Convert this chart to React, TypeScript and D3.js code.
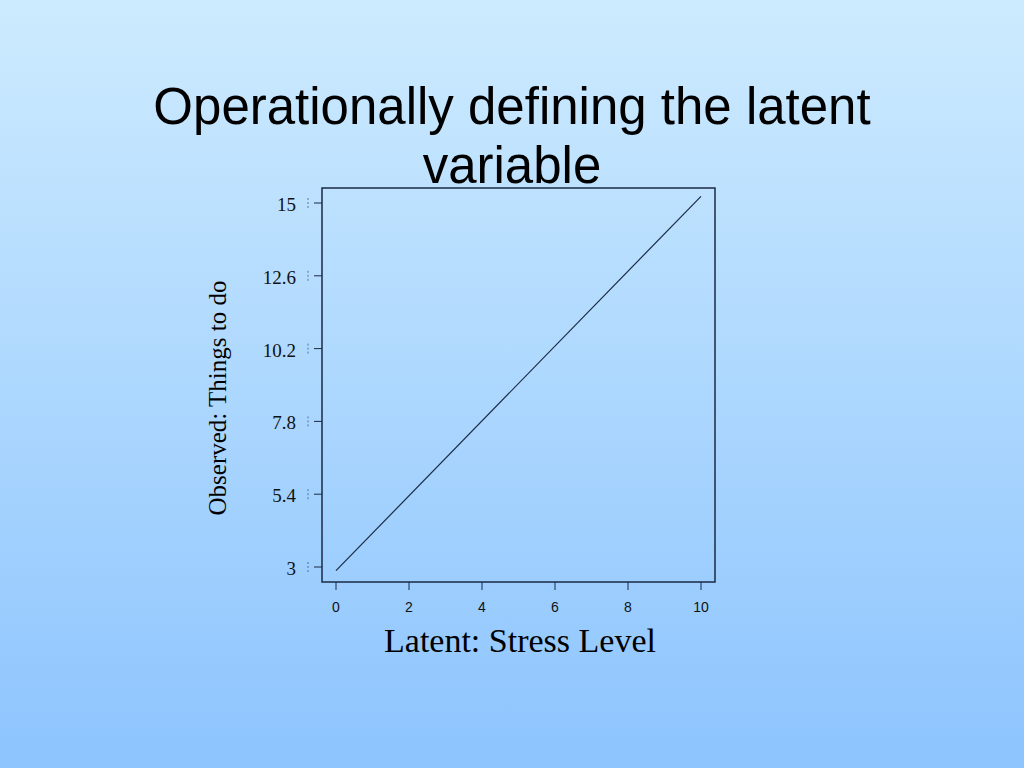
import React from "react";
import * as d3 from "d3";

const titleLines = ["Operationally defining the latent", "variable"];
const xTicks = [0, 2, 4, 6, 8, 10];
const yTicks = [3, 5.4, 7.8, 10.2, 12.6, 15];
const yTickLabels = ["3", "5.4", "7.8", "10.2", "12.6", "15"];
const lineX = [0, 10];
const lineY = [2.88, 15.22];
const xLabel = "Latent: Stress Level";
const yLabel = "Observed: Things to do";

const W = 1024;
const H = 768;
const box = { left: 322, right: 715, top: 188, bottom: 582 };

export default function App() {
  const x = d3.scaleLinear().domain([0, 10]).range([336, 701]);
  const y = d3.scaleLinear().domain([3, 15]).range([567, 203]);
  const line = d3
    .line<number>()
    .x((_, i) => x(lineX[i]))
    .y((d) => y(d));
  const ink = "#1b2a44";
  return (
    <svg
      width={W}
      height={H}
      style={{ position: "fixed", left: 0, top: 0, display: "block" }}
    >
      <defs>
        <linearGradient id="bg" x1="0" y1="0" x2="0" y2="1">
          <stop offset="0" stopColor="#cdebfe" />
          <stop offset="1" stopColor="#8dc4fe" />
        </linearGradient>
      </defs>
      <rect x={0} y={0} width={W} height={H} fill="url(#bg)" />
      {titleLines.map((t, i) => (
        <text
          key={i}
          x={512}
          y={124 + i * 59}
          textAnchor="middle"
          fontFamily="'Liberation Sans', Arial, sans-serif"
          fontSize={51}
          fill="#000"
        >
          {t}
        </text>
      ))}
      <rect
        x={box.left}
        y={box.top}
        width={box.right - box.left}
        height={box.bottom - box.top}
        fill="none"
        stroke={ink}
        strokeWidth={1.5}
      />
      <path d={line(lineY) || ""} fill="none" stroke={ink} strokeWidth={1.2} />
      {xTicks.map((t) => (
        <g key={t}>
          <line x1={x(t)} x2={x(t)} y1={box.bottom} y2={box.bottom + 8} stroke={ink} strokeWidth={1} />
          <text
            x={x(t)}
            y={612}
            textAnchor="middle"
            fontFamily="'Liberation Sans', Arial, sans-serif"
            fontSize={14}
            fill="#111"
          >
            {t}
          </text>
        </g>
      ))}
      {yTicks.map((t, i) => (
        <g key={t}>
          <line x1={box.left - 8} x2={box.left} y1={y(t)} y2={y(t)} stroke={ink} strokeWidth={1} />
          <line
            x1={308}
            x2={308}
            y1={y(t) - 5}
            y2={y(t) + 5}
            stroke={ink}
            strokeWidth={0.8}
            strokeDasharray="2,2"
            opacity={0.7}
          />
          <text
            x={296}
            y={y(t) + 8}
            textAnchor="end"
            fontFamily="'Liberation Serif', 'Times New Roman', serif"
            fontSize={19}
            fill="#111"
          >
            {yTickLabels[i]}
          </text>
        </g>
      ))}
      <text
        x={520}
        y={652}
        textAnchor="middle"
        fontFamily="'Liberation Serif', 'Times New Roman', serif"
        fontSize={34}
        fill="#000"
      >
        {xLabel}
      </text>
      <text
        transform="translate(226,398) rotate(-90)"
        textAnchor="middle"
        fontFamily="'Liberation Serif', 'Times New Roman', serif"
        fontSize={25}
        fill="#000"
      >
        {yLabel}
      </text>
    </svg>
  );
}
